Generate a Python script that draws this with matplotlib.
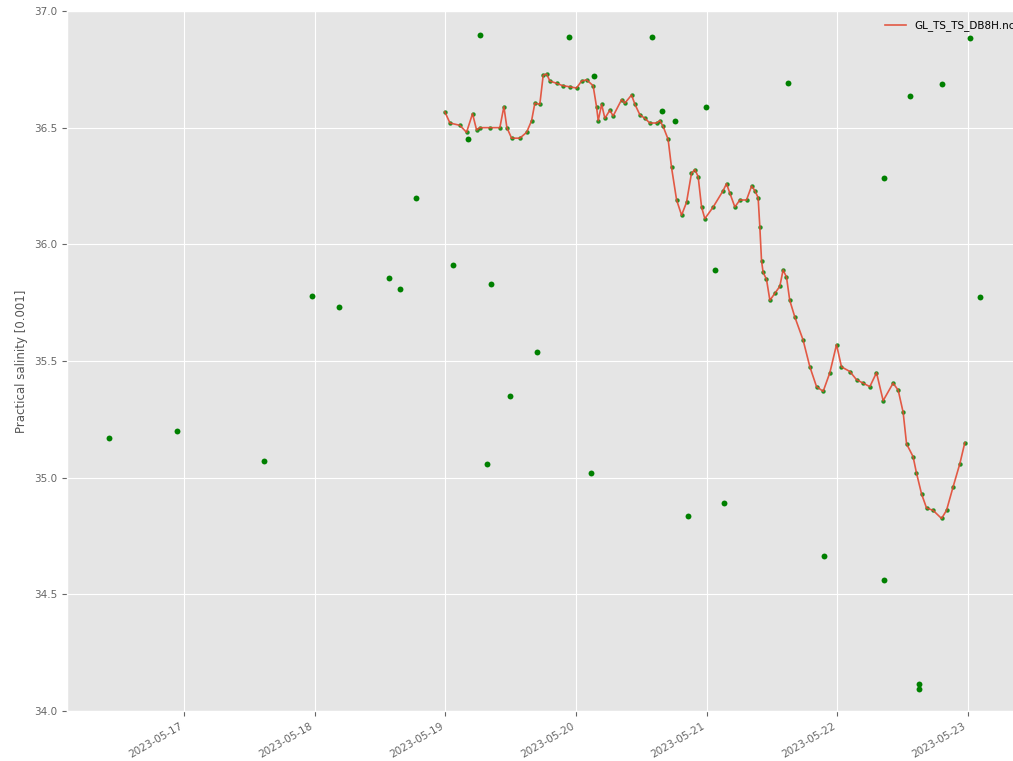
import matplotlib
matplotlib.use("Agg")
import matplotlib.pyplot as plt
import matplotlib.dates as mdates
import numpy as np
import pandas as pd

plt.style.use("ggplot")

base_date = "2023-05-17"

# smoothed series (days since 2023-05-17, practical salinity)
line_days = [1.997, 2.036, 2.112, 2.163, 2.209, 2.240, 2.265, 2.342, 2.418, 2.449,
             2.472, 2.508, 2.571, 2.623, 2.661, 2.686, 2.724, 2.750, 2.776, 2.801,
             2.852, 2.900, 2.954, 3.005, 3.044, 3.082, 3.132, 3.158, 3.171, 3.197,
             3.222, 3.260, 3.285, 3.350, 3.375, 3.426, 3.452, 3.490, 3.528, 3.566,
             3.618, 3.643, 3.668, 3.706, 3.732, 3.771, 3.809, 3.847, 3.885, 3.911,
             3.936, 3.962, 3.987, 4.051, 4.127, 4.153, 4.178, 4.217, 4.255, 4.306,
             4.345, 4.370, 4.395, 4.408, 4.421, 4.433, 4.459, 4.485, 4.523, 4.561,
             4.586, 4.612, 4.637, 4.675, 4.739, 4.791, 4.842, 4.893, 4.944, 4.995,
             5.033, 5.097, 5.148, 5.199, 5.250, 5.301, 5.352, 5.428, 5.467, 5.505,
             5.531, 5.581, 5.607, 5.646, 5.684, 5.734, 5.799, 5.837, 5.887, 5.939,
             5.977]
line_sal = [36.568, 36.52, 36.51, 36.48, 36.56, 36.49, 36.50, 36.50, 36.50, 36.59,
            36.50, 36.455, 36.455, 36.48, 36.53, 36.605, 36.60, 36.725, 36.73, 36.70,
            36.69, 36.68, 36.675, 36.67, 36.70, 36.705, 36.68, 36.59, 36.53, 36.60,
            36.54, 36.575, 36.55, 36.62, 36.605, 36.64, 36.60, 36.555, 36.54, 36.52,
            36.52, 36.53, 36.505, 36.45, 36.33, 36.19, 36.125, 36.18, 36.305, 36.32,
            36.29, 36.16, 36.11, 36.16, 36.23, 36.26, 36.22, 36.16, 36.19, 36.19,
            36.25, 36.23, 36.20, 36.075, 35.93, 35.88, 35.85, 35.76, 35.79, 35.82,
            35.89, 35.86, 35.76, 35.69, 35.59, 35.475, 35.39, 35.37, 35.45, 35.57,
            35.475, 35.455, 35.42, 35.405, 35.39, 35.45, 35.33, 35.405, 35.375, 35.28,
            35.145, 35.09, 35.02, 34.93, 34.87, 34.86, 34.825, 34.86, 34.96, 35.06,
            35.15]

# isolated raw points
out_days = [-0.574, -0.054, 0.612, 0.980, 1.186, 1.569, 1.653, 1.775, 2.059, 2.173,
            2.265, 2.319, 2.349, 2.495, 2.701, 2.946, 3.115, 3.138, 3.582, 3.658,
            3.758, 3.857, 3.995, 4.064, 4.133, 4.622, 4.898, 5.357, 5.357, 5.556,
            5.625, 5.625, 5.801, 6.015, 6.092]
out_sal = [35.17, 35.20, 35.07, 35.78, 35.73, 35.855, 35.81, 36.20, 35.91, 36.45,
           36.895, 35.06, 35.83, 35.35, 35.54, 36.89, 35.02, 36.72, 36.89, 36.57,
           36.53, 34.835, 36.59, 35.89, 34.89, 36.69, 34.665, 36.285, 34.56, 36.635,
           34.115, 34.095, 36.685, 36.885, 35.775]

legend_label = "GL_TS_TS_DB8H.nc"
y_label = "Practical salinity [0.001]"

t0 = pd.Timestamp(base_date)
line_t = t0 + pd.to_timedelta(line_days, unit="D")
out_t = t0 + pd.to_timedelta(out_days, unit="D")

W, H = 1013, 761
fig = plt.figure(figsize=(W / 100, H / 100), dpi=100)
ax = fig.add_axes([67 / W, (H - 711) / H, (1024 - 67) / W, 700 / H])

ax.scatter(line_t, line_sal, s=10, color="green", alpha=0.85, zorder=2, linewidths=0)
ax.scatter(out_t, out_sal, s=18, color="green", zorder=2, linewidths=0)
ax.plot(line_t, line_sal, color="#E24A33", lw=1.2, alpha=0.9, zorder=3, label=legend_label)

ax.set_ylim(34.0, 37.0)
ax.set_xlim(t0 - pd.Timedelta(days=0.895), t0 + pd.Timedelta(days=6.43))
ax.xaxis.set_major_locator(mdates.DayLocator())
ax.xaxis.set_major_formatter(mdates.DateFormatter("%Y-%m-%d"))
ax.tick_params(axis="both", labelsize=7.5, colors="#666666")
for lab in ax.get_xticklabels():
    lab.set_rotation(30)
    lab.set_ha("right")
ax.set_ylabel(y_label, fontsize=8.5, color="#555555")

leg = ax.legend(loc="upper right", fontsize=7.5, frameon=False)

fig.savefig("out.png", dpi=100)
